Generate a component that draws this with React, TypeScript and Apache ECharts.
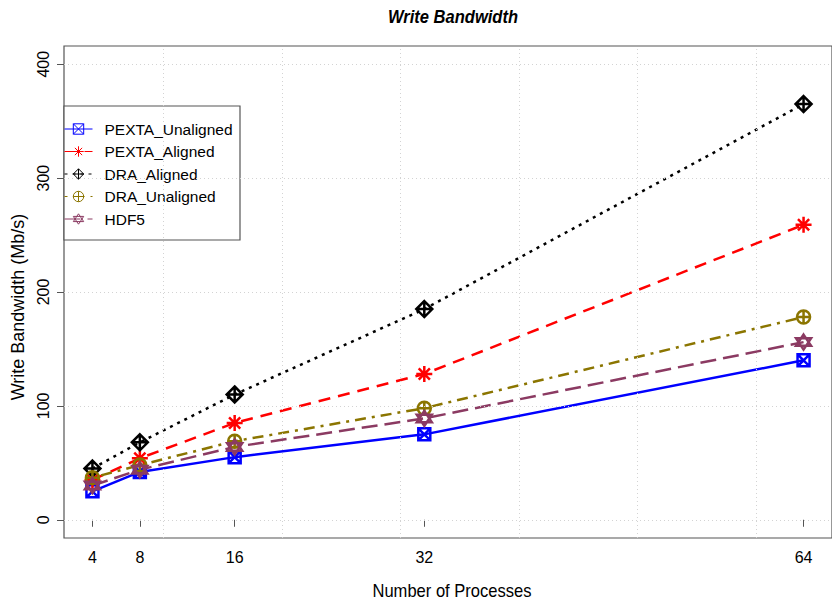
import React, { useEffect, useRef } from "react";
import * as echarts from "echarts";

const processes = [4, 8, 16, 32, 64];
const pextaUnaligned = [25, 42, 55, 75, 140];
const pextaAligned = [35, 54, 85, 128, 259];
const draAligned = [45, 68, 110, 185, 365];
const draUnaligned = [37, 48, 69, 98, 178];
const hdf5 = [30, 44, 64, 89, 156];
const yTicks = [0, 100, 200, 300, 400];
const xGrid = [10, 20, 30, 40, 50, 60];

const FONT = "Liberation Sans, Arial, Helvetica, sans-serif";

const SYM_SQUARE_X = "path://M0 0 L10 0 L10 10 L0 10 Z M0 0 L10 10 M10 0 L0 10";
const SYM_ASTERISK = "path://M5 0 L5 10 M0 5 L10 5 M1.5 1.5 L8.5 8.5 M8.5 1.5 L1.5 8.5";
const SYM_DIAMOND_PLUS = "path://M5 0 L10 5 L5 10 L0 5 Z M5 0 L5 10 M0 5 L10 5";
const SYM_CIRCLE_PLUS = "path://M0 5 A5 5 0 1 0 10 5 A5 5 0 1 0 0 5 Z M5 0 L5 10 M0 5 L10 5";
const SYM_STAR = "path://M5 0 L10 7.5 L0 7.5 Z M5 10 L0 2.5 L10 2.5 Z";

const seriesDefs = [
  { name: "PEXTA_Unaligned", values: pextaUnaligned, color: "#0000FF", symbol: SYM_SQUARE_X, dash: "solid" as any, size: 12 },
  { name: "PEXTA_Aligned", values: pextaAligned, color: "#FF0000", symbol: SYM_ASTERISK, dash: [12, 8], size: 16 },
  { name: "DRA_Aligned", values: draAligned, color: "#000000", symbol: SYM_DIAMOND_PLUS, dash: [3, 5], size: 16 },
  { name: "DRA_Unaligned", values: draUnaligned, color: "#8B7500", symbol: SYM_CIRCLE_PLUS, dash: [3, 6, 11, 6], size: 13 },
  { name: "HDF5", values: hdf5, color: "#8B3A62", symbol: SYM_STAR, dash: [16, 7], size: 15 },
];

export default function App() {
  const ref = useRef<HTMLDivElement>(null);
  useEffect(() => {
    if (!ref.current) return;
    const chart = echarts.init(ref.current, null, { renderer: "svg" });

    const series: any[] = seriesDefs.map((s) => ({
      name: s.name,
      type: "line",
      color: s.color,
      data: processes.map((p, i) => [p, s.values[i]]),
      symbol: s.symbol,
      symbolSize: s.size,
      showAllSymbol: true,
      z: 3,
      lineStyle: { color: s.color, width: 2.5, type: s.dash, cap: "butt" },
      itemStyle: { color: "none", borderColor: s.color, borderWidth: 2.5 },
    }));

    series.unshift({
      name: "grid",
      type: "line",
      data: [],
      z: 1,
      silent: true,
      markLine: {
        silent: true,
        symbol: ["none", "none"],
        label: { show: false },
        lineStyle: { color: "#d3d3d3", type: [1, 3], width: 1 },
        data: [
          ...xGrid.map((v) => ({ xAxis: v })),
          ...yTicks.map((v) => ({ yAxis: v })),
        ],
      },
    });

    chart.setOption({
      animation: false,
      backgroundColor: "#ffffff",
      textStyle: { fontFamily: FONT },
      grid: {
        left: 64,
        right: -11,
        top: 46,
        bottom: 65,
        show: true,
        borderColor: "#555555",
        borderWidth: 1.2,
        backgroundColor: "transparent",
      },
      xAxis: {
        type: "value",
        min: 1.6,
        max: 66.4,
        axisLine: { show: false },
        splitLine: { show: false },
        axisTick: {
          show: true,
          customValues: processes,
          length: 7,
          lineStyle: { color: "#555555", width: 1 },
        },
        axisLabel: {
          customValues: processes,
          color: "#000",
          fontSize: 16,
          fontFamily: FONT,
          margin: 11,
        },
      },
      yAxis: {
        type: "value",
        min: -16,
        max: 416,
        axisLine: { show: false },
        splitLine: { show: false },
        axisTick: {
          show: true,
          customValues: yTicks,
          length: 7,
          lineStyle: { color: "#555555", width: 1 },
        },
        axisLabel: {
          customValues: yTicks,
          rotate: 90,
          color: "#000",
          fontSize: 16,
          fontFamily: FONT,
          margin: 13,
        },
      },
      legend: {
        orient: "vertical",
        left: 64,
        top: 121,
        padding: 0,
        itemWidth: 28,
        itemHeight: 13,
        itemGap: 6.5,
        data: seriesDefs.map((s) => s.name),
        textStyle: { color: "#000", fontSize: 15.5, fontFamily: FONT, padding: [0, 0, 0, 7] },
        itemStyle: { borderWidth: 1 },
        lineStyle: { width: 1 },
        z: 5,
      },
      graphic: [
        {
          type: "rect",
          z: 4,
          shape: { x: 64, y: 106, width: 176, height: 134 },
          style: { fill: "#ffffff", stroke: "#555555", lineWidth: 1.2 },
        },
        {
          type: "text",
          x: 453,
          y: 17,
          scaleX: 0.87,
          style: {
            text: "Write Bandwidth",
            font: `italic bold 19px ${FONT}`,
            fill: "#000",
            textAlign: "center",
            textVerticalAlign: "middle",
          },
        },
        {
          type: "text",
          x: 452,
          y: 591,
          scaleX: 0.92,
          style: {
            text: "Number of Processes",
            font: `18px ${FONT}`,
            fill: "#000",
            textAlign: "center",
            textVerticalAlign: "middle",
          },
        },
        {
          type: "text",
          x: 18,
          y: 307,
          rotation: Math.PI / 2,
          style: {
            text: "Write Bandwidth (Mb/s)",
            font: `18px ${FONT}`,
            fill: "#000",
            textAlign: "center",
            textVerticalAlign: "middle",
          },
        },
      ],
      series,
    });
    return () => chart.dispose();
  }, []);
  return <div ref={ref} style={{ width: 832, height: 603, position: "absolute", left: 0, top: 0 }} />;
}
